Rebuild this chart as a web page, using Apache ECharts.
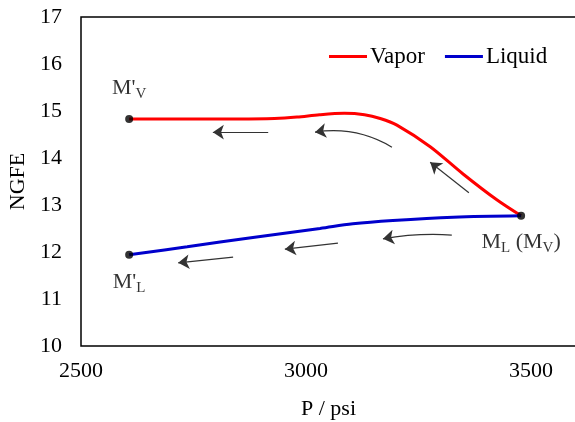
<!DOCTYPE html>
<html>
<head>
<meta charset="utf-8">
<script src="https://cdn.jsdelivr.net/npm/echarts@6/dist/echarts.min.js"></script>
<style>
  html, body { margin: 0; padding: 0; background: #fff; }
  #chart { width: 575px; height: 422px; }
</style>
</head>
<body>
<div id="chart"></div>
<script>
// vapor branch: P (psi) -> NGFE
const vaporP = [2607, 2720, 2850, 2930, 2980, 3030, 3085, 3130, 3165, 3202, 3276, 3349, 3424, 3478];
const vaporNGFE = [14.83, 14.83, 14.83, 14.84, 14.87, 14.92, 14.95, 14.92, 14.84, 14.70, 14.24, 13.66, 13.11, 12.77];

// liquid branch
const liquidP = [2607, 2736, 2882, 3031, 3104, 3193, 3327, 3478];
const liquidNGFE = [11.94, 12.11, 12.31, 12.50, 12.60, 12.67, 12.74, 12.77];

// marked points M'V, M'L, ML (MV)
const pointP = [2607, 2607, 3478];
const pointNGFE = [14.83, 11.94, 12.77];
const pointText = ["{m|M'}{s|V}", "{m|M'}{s|L}", "{m|M}{s|L}{m| (M}{s|V}{m|)}"];

// direction arrows (tail -> head), in data units
const arrowFrom = [[2916, 14.55], [3191, 14.23], [3362, 13.26], [3324, 12.36], [3071, 12.19], [2838, 11.89]];
const arrowTo = [[2793, 14.55], [3020, 14.55], [3276, 13.91], [3171, 12.28], [2953, 12.06], [2716, 11.77]];
const arrowBend = [0, -0.18, 0, -0.06, 0, 0];

const xTicks = { min: 2500, max: 3600, step: 500 };
const yTicks = { min: 10, max: 17, step: 1 };

const font = "'Liberation Serif', 'Times New Roman', serif";

function pairs(xs, ys) {
  const out = [];
  for (let i = 0; i < xs.length; i++) {
    out.push([xs[i], ys[i]]);
  }
  return out;
}

const richText = {
  m: { fontFamily: font, fontSize: 22, lineHeight: 22, color: '#000', verticalAlign: 'top' },
  s: { fontFamily: font, fontSize: 15, lineHeight: 15, color: '#000', verticalAlign: 'top', padding: [10, 0, 0, 0] }
};
const labelPlace = [
  { position: 'top', distance: 16 },
  { position: 'bottom', distance: 12 },
  { position: 'bottom', distance: 11 }
];

const pointData = [];
for (let i = 0; i < pointP.length; i++) {
  pointData.push({
    value: [pointP[i], pointNGFE[i]],
    label: {
      show: true,
      color: '#000',
      position: labelPlace[i].position,
      distance: labelPlace[i].distance,
      formatter: pointText[i],
      rich: richText
    }
  });
}

const arrowData = [];
for (let i = 0; i < arrowFrom.length; i++) {
  arrowData.push({
    coords: [arrowFrom[i], arrowTo[i]],
    lineStyle: { curveness: arrowBend[i] }
  });
}

const chart = echarts.init(document.getElementById('chart'), null, { renderer: 'canvas' });
chart.setOption({
  animation: false,
  backgroundColor: '#fff',
  textStyle: { fontFamily: font },
  grid: {
    left: 81,
    top: 17,
    right: -1,
    bottom: 76,
    containLabel: false,
    outerBoundsMode: 'none',
    show: true,
    borderColor: '#000',
    borderWidth: 1.5,
    backgroundColor: 'transparent'
  },
  legend: {
    left: 324,
    top: 40,
    icon: 'rect',
    itemWidth: 38,
    itemHeight: 3,
    itemGap: 20,
    data: ['Vapor', 'Liquid'],
    textStyle: { fontFamily: font, fontSize: 23, color: '#000', padding: [0, 0, 0, -2] }
  },
  xAxis: {
    type: 'value',
    min: xTicks.min,
    max: xTicks.max,
    interval: xTicks.step,
    name: 'P / psi',
    nameLocation: 'middle',
    nameGap: 52,
    nameTextStyle: { fontFamily: font, fontSize: 22, color: '#000' },
    axisLine: { show: false },
    axisTick: { show: false },
    splitLine: { show: false },
    axisLabel: {
      margin: 14,
      showMaxLabel: false,
      formatter: function (v) { return String(v); },
      fontFamily: font,
      fontSize: 22,
      color: '#000'
    }
  },
  yAxis: {
    type: 'value',
    min: yTicks.min,
    max: yTicks.max,
    interval: yTicks.step,
    name: 'NGFE',
    nameLocation: 'middle',
    nameGap: 50,
    nameTextStyle: { fontFamily: font, fontSize: 22, color: '#000' },
    axisLine: { show: false },
    axisTick: { show: false },
    splitLine: { show: false },
    axisLabel: {
      margin: 19,
      fontFamily: font,
      fontSize: 22,
      color: '#000'
    }
  },
  series: [
    {
      name: 'Vapor',
      type: 'line',
      data: pairs(vaporP, vaporNGFE),
      smooth: 0.3,
      symbol: 'none',
      lineStyle: { color: '#ff0000', width: 3 },
      itemStyle: { color: '#ff0000' },
      z: 3
    },
    {
      name: 'Liquid',
      type: 'line',
      data: pairs(liquidP, liquidNGFE),
      smooth: 0.35,
      symbol: 'none',
      lineStyle: { color: '#0000cc', width: 3 },
      itemStyle: { color: '#0000cc' },
      z: 3
    },
    {
      name: 'arrows',
      type: 'lines',
      coordinateSystem: 'cartesian2d',
      data: arrowData,
      symbol: ['none', 'arrow'],
      symbolSize: 11,
      lineStyle: { color: '#333', width: 1.2, opacity: 1 },
      silent: true,
      z: 2
    },
    {
      name: 'points',
      type: 'scatter',
      data: pointData,
      symbol: 'circle',
      symbolSize: 8,
      itemStyle: { color: '#000' },
      z: 5
    }
  ]
});
</script>
</body>
</html>
